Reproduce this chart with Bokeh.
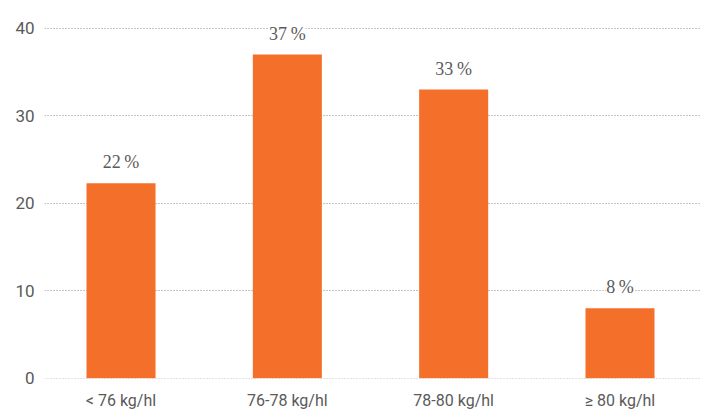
from bokeh.plotting import figure
from bokeh.models import ColumnDataSource, LabelSet, FixedTicker, Range1d
from bokeh.embed import file_html
from bokeh.resources import INLINE

categories = ["< 76 kg/hl", "76-78 kg/hl", "78-80 kg/hl", "≥ 80 kg/hl"]
values = [22.3, 37.0, 33.0, 8.0]
value_labels = ["22\u2009%", "37\u2009%", "33\u2009%", "8\u2009%"]
y_ticks = [0, 10, 20, 30, 40]

FONT = "Roboto"
TXT = "#5a5a5a"

xs = list(range(len(categories)))
src = ColumnDataSource(dict(x=xs, top=values, lab=value_labels))

p = figure(width=707, height=412, output_backend="svg", toolbar_location=None,
           x_range=Range1d(-0.46, 3.484), y_range=Range1d(-0.02, 43.17),
           min_border_left=44, min_border_right=7, min_border_top=0, min_border_bottom=31)
p.outline_line_color = None
p.background_fill_color = "white"
p.border_fill_color = "white"

p.vbar(x="x", top="top", bottom=0, width=0.415, source=src,
       fill_color="#F36F2A", line_color=None)

labels = LabelSet(x="x", y="top", text="lab", source=src, text_align="center",
                  text_baseline="bottom", y_offset=11, text_font=FONT,
                  text_font_size="18px", text_color=TXT,
                  background_fill_color="white")
p.add_layout(labels)

p.xgrid.grid_line_color = None
p.ygrid.ticker = FixedTicker(ticks=y_ticks)
p.ygrid.grid_line_color = "#8a8a8a"
p.ygrid.grid_line_dash = "1 2"
p.ygrid.grid_line_width = 1
p.ygrid.level = "underlay"

p.yaxis.ticker = FixedTicker(ticks=y_ticks)
p.yaxis.axis_line_color = None
p.yaxis.major_tick_line_color = None
p.yaxis.minor_tick_line_color = None
p.yaxis.major_tick_out = 0
p.yaxis.major_tick_in = 0
p.yaxis.major_label_text_font = FONT
p.yaxis.major_label_text_font_size = "17px"
p.yaxis.major_label_text_color = TXT
p.yaxis.major_label_standoff = 10

p.xaxis.ticker = FixedTicker(ticks=xs)
p.xaxis.major_label_overrides = {i: c for i, c in enumerate(categories)}
p.xaxis.axis_line_color = None
p.xaxis.major_tick_line_color = None
p.xaxis.minor_tick_line_color = None
p.xaxis.major_tick_out = 0
p.xaxis.major_tick_in = 0
p.xaxis.major_label_text_font = FONT
p.xaxis.major_label_text_font_size = "16px"
p.xaxis.major_label_text_color = TXT
p.xaxis.major_label_standoff = 12

open("out.html", "w").write(file_html(p, INLINE))
